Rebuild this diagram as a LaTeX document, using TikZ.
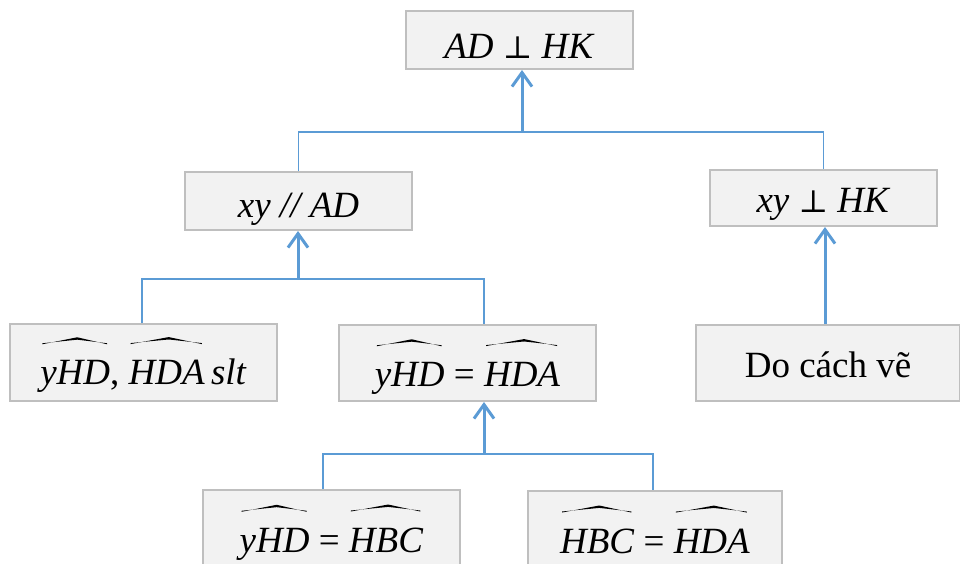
\documentclass[tikz,border=0pt]{standalone}
\usepackage{fontspec}
\setmainfont{Liberation Serif}
\newfontfamily\symfnt[Scale=0.85]{DejaVu Serif}
\usetikzlibrary{arrows.meta}
\definecolor{boxfill}{HTML}{F2F2F2}
\definecolor{boxline}{HTML}{BFBFBF}
\definecolor{linkblue}{HTML}{5B9BD5}
\newcommand{\pperp}{{\symfnt ⊥}}
\newcommand{\arcover}[1]{\tikz[x=1pt,y=1pt,baseline=(t.base),line width=0pt]{%
  \node[draw=none,fill=none,inner sep=0pt,outer sep=0pt,minimum width=0pt,minimum height=0pt,text height=,text depth=] (t) {#1};%
  \fill[black] ([xshift=2pt,yshift=16pt]t.north west) -- ([xshift=2pt,yshift=23pt]t.north) -- ([xshift=-3pt,yshift=16pt]t.north east)
    -- ([xshift=-3pt,yshift=17pt]t.north east) -- ([xshift=2pt,yshift=20.6pt]t.north) -- ([xshift=2pt,yshift=17pt]t.north west) -- cycle;}}
\tikzset{
  box/.style={draw=boxline, fill=boxfill, line width=2pt, inner sep=0pt,
    text depth=0pt, font=\fontsize{37}{44}\selectfont},
  link/.style={draw=linkblue, line width=1.3pt},
  uparrow/.style={draw=linkblue, line width=3pt, -{Straight Barb[length=14pt,width=20pt]}},
}
\begin{document}
\begin{tikzpicture}[x=1pt,y=-1pt]
\useasboundingbox (0,0) rectangle (960,564);
\clip (0,0) rectangle (960,564);
\node[box, minimum width=227pt, minimum height=58pt, text height=38pt] (top) at (519.5,40) {\textit{AD} \pperp{} \textit{HK}};
\node[box, minimum width=227pt, minimum height=58pt, text height=32pt] (xyAD) at (298.5,201) {\textit{xy // AD}};
\node[box, minimum width=227pt, minimum height=56pt, text height=28pt] (xyHK) at (823.5,198) {\textit{xy} \pperp{} \textit{HK}};
\node[box, minimum width=267pt, minimum height=77pt, text height=44pt] (slt) at (143.5,362.5) {\arcover{\textit{yHD}}, \arcover{\textit{HDA}}\,\textit{slt}};
\node[box, minimum width=257pt, minimum height=76pt, text height=47pt] (eqHDA) at (467.5,363) {\arcover{\textit{yHD}} = \arcover{\textit{HDA}}};
\node[box, minimum width=264pt, minimum height=76pt, text height=28pt] (do) at (828,363) {Do cách vẽ};
\node[box, minimum width=257pt, minimum height=84pt, text height=40pt] (eqHBC) at (331.5,532) {\arcover{\textit{yHD}} = \arcover{\textit{HBC}}};
\node[box, minimum width=254pt, minimum height=84pt, text height=40pt] (HBCHDA) at (655,533) {\arcover{\textit{HBC}} = \arcover{\textit{HDA}}};
% level 1
\coordinate (j1) at (522,132);
\draw[uparrow] (j1) -- (j1 |- top.south);
\draw[link] (xyAD.north) |- (j1) -| (xyHK.north);
% level 2
\coordinate (j2) at (298,279);
\coordinate (l2) at (142,279);
\coordinate (r2) at (484,279);
\draw[uparrow] (j2) -- (j2 |- xyAD.south);
\draw[link] (l2 |- slt.north) -- (l2) -- (r2) -- (r2 |- eqHDA.north);
% level 3
\coordinate (j3) at (484,454);
\coordinate (l3) at (323,454);
\coordinate (r3) at (653,454);
\draw[uparrow] (j3) -- (j3 |- eqHDA.south);
\draw[link] (l3 |- eqHBC.north) -- (l3) -- (r3) -- (r3 |- HBCHDA.north);
% right branch
\coordinate (a4) at (825,300);
\draw[uparrow] (a4 |- do.north) -- (a4 |- xyHK.south);
\end{tikzpicture}
\end{document}
